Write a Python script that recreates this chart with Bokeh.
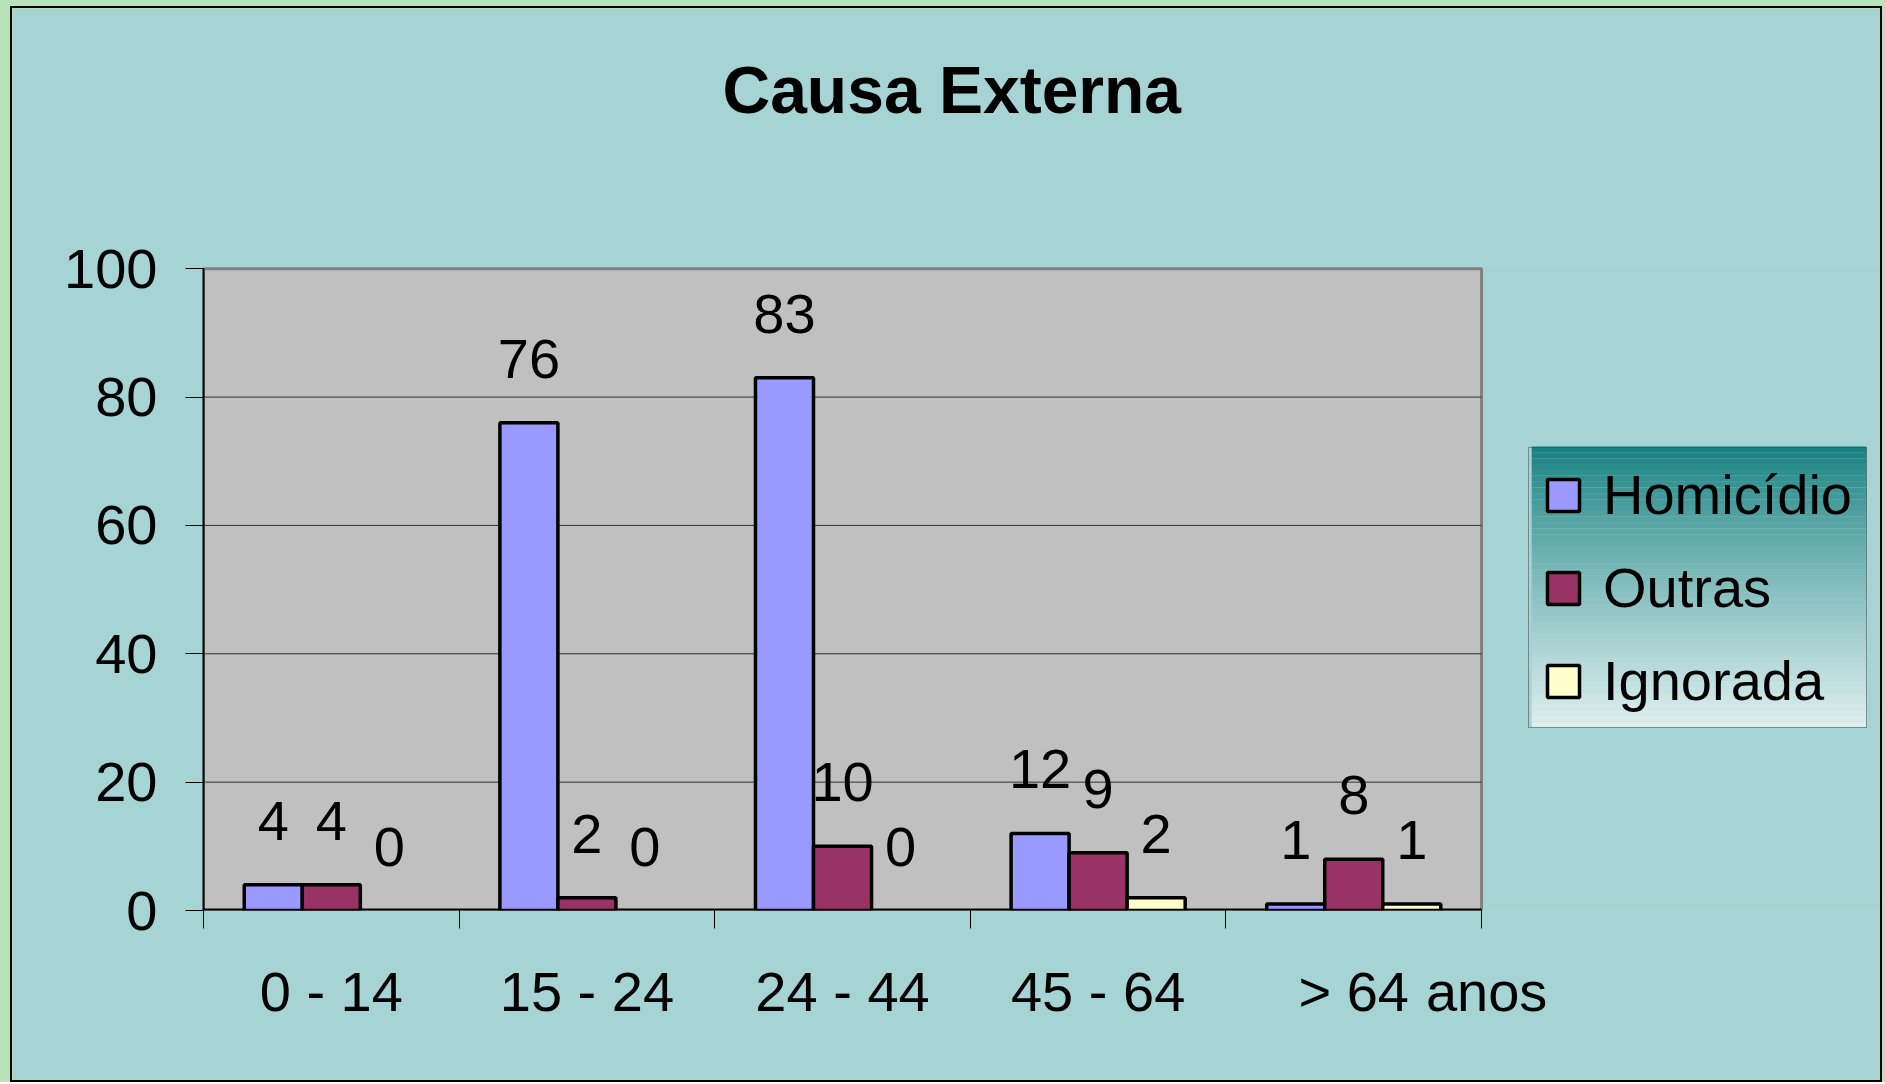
import numpy as np
from bokeh.plotting import figure
from bokeh.layouts import column
from bokeh.models import (ColumnDataSource, Range1d, FixedTicker, Legend, LegendItem,
                          LabelSet, CDSView, BooleanFilter, Title)
from bokeh.core.properties import value
from bokeh.embed import file_html
from bokeh.resources import INLINE

# ---- data ----
categories = ["0 - 14", "15 - 24", "24 - 44", "45 - 64", "> 64"]
homicidio = [4, 76, 83, 12, 1]
outras = [4, 2, 10, 9, 8]
ignorada = [0, 0, 0, 2, 1]
series_names = ["Homicídio", "Outras", "Ignorada"]
y_ticks = [0, 20, 40, 60, 80, 100]
title_text = "Causa Externa"
unit_text = "anos"

# ---- style / layout ----
FONT = "Liberation Sans"
colors = ["#9999FF", "#993366", "#FFFFCC"]
BG = "#A6D3D3"
PANEL = "#C0C0C0"
W, H = 1872, 1076
MB_LEFT, MB_TOP, MB_BOTTOM = 191, 257, 174
PX_PER_CAT = 255.0
frame_w = (W - 4) - MB_LEFT
frame_h = (H - 4) - MB_TOP - MB_BOTTOM
y_top = 100.5
px_per_y = frame_h / y_top

n = len(categories)
p = figure(width=W, height=H,
           x_range=Range1d(0, frame_w / PX_PER_CAT), y_range=Range1d(0, y_top),
           output_backend="svg", toolbar_location=None,
           min_border_left=MB_LEFT, min_border_right=0,
           min_border_top=MB_TOP, min_border_bottom=MB_BOTTOM)
p.margin = (6, 3, 0, 10)
p.styles = {"border": "2px solid black"}

p.background_fill_color = BG
p.border_fill_color = BG
p.outline_line_color = None

# spacer between the frame and the title (keeps the title high above the plot)
p.add_layout(Title(text=" ", text_font_size="2px", standoff=130), "above")

# title
p.title.text = title_text
p.title.text_font = FONT
p.title.text_font_size = "66px"
p.title.text_font_style = "bold"
p.title.text_color = "black"
p.title.align = "left"
p.title.offset = 519
p.title.standoff = 10

# y axis
ya = p.yaxis[0]
ya.bounds = (y_ticks[0], y_ticks[-1])
ya.ticker = FixedTicker(ticks=y_ticks, minor_ticks=[])
ya.major_tick_out = 18
ya.major_tick_in = 0
ya.major_tick_line_color = "black"
ya.axis_line_color = "black"
ya.axis_line_width = 2
ya.major_label_standoff = 28
ya.major_label_text_font = FONT
ya.major_label_text_font_size = "56px"
ya.major_label_text_color = "black"

# x axis: labels at category centres, tick marks at category boundaries
xs = np.arange(n) + 0.5
unit_x = n + 0.02
xa = p.xaxis[0]
xa.ticker = FixedTicker(ticks=list(xs) + [unit_x], minor_ticks=list(range(n + 1)))
overrides = {float(x): c for x, c in zip(xs, categories)}
overrides[float(unit_x)] = unit_text
xa.major_label_overrides = overrides
xa.major_tick_out = 0
xa.major_tick_in = 0
xa.minor_tick_out = 18
xa.minor_tick_in = 0
xa.minor_tick_line_color = "black"
xa.axis_line_color = None
xa.major_label_standoff = 31
xa.major_label_text_font = FONT
xa.major_label_text_font_size = "56px"
xa.major_label_text_color = "black"

p.xgrid.visible = False
p.ygrid.visible = False

# plot panel (grey) with its grey top/right border
p.quad(left=[0], right=[n], bottom=[y_ticks[0]], top=[y_ticks[-1]],
       fill_color=PANEL, line_color="#808080", line_width=3)
# horizontal grid lines
gy = y_ticks[1:-1]
p.segment(x0=[0] * len(gy), x1=[n] * len(gy), y0=gy, y1=gy,
          line_color="#303030", line_width=1)
# category axis line
p.segment(x0=[0], x1=[n], y0=[0], y1=[0], line_color="black", line_width=4)

# bars
w = 0.227
items = []
for i, (name, vals, col) in enumerate(zip(series_names, [homicidio, outras, ignorada], colors)):
    src = ColumnDataSource(dict(x=xs + (i - 1) * w, top=vals, label=[str(v) for v in vals]))
    view = CDSView(filter=BooleanFilter([v > 0 for v in vals]))
    r = p.vbar(x="x", top="top", bottom=0, width=w, source=src, view=view,
               fill_color=col, line_color="black", line_width=3.5)
    items.append(LegendItem(label=name, renderers=[r]))
    p.add_layout(LabelSet(x="x", y="top", text="label", source=src,
                          y_offset=64, text_align="center", text_baseline="middle",
                          text_font=value(FONT), text_font_size=value("56px"),
                          text_color="black"))

# legend with a vertical gradient background (teal -> pale)
LEG_X, LEG_Y, LEG_W, LEG_H = 1325, 182, 334, 279
top_rgb = np.array([0x14, 0x7F, 0x7F])
bot_rgb = np.array([0xDF, 0xEF, 0xEF])
ns = 48
lefts, rights, bots, tops, cols = [], [], [], [], []
for k in range(ns):
    t = (k + 0.5) / ns
    c = top_rgb + (bot_rgb - top_rgb) * (t ** 0.85)
    y_hi = (LEG_Y + LEG_H - k * LEG_H / ns) / px_per_y
    y_lo = (LEG_Y + LEG_H - (k + 1) * LEG_H / ns) / px_per_y
    lefts.append(LEG_X / PX_PER_CAT)
    rights.append((LEG_X + LEG_W) / PX_PER_CAT)
    tops.append(y_hi + 0.02)
    bots.append(y_lo)
    cols.append("#%02x%02x%02x" % tuple(int(round(v)) for v in c))
p.quad(left=lefts, right=rights, bottom=bots, top=tops, fill_color=cols, line_color=None)

legend = Legend(items=items, location=(LEG_X, LEG_Y), margin=0,
                background_fill_alpha=0,
                border_line_color="#404040", border_line_width=1,
                glyph_width=40, glyph_height=40, label_standoff=20,
                padding=14, spacing=28,
                label_text_font=FONT, label_text_font_size="56px",
                label_text_color="black")
p.add_layout(legend)

layout = column(p, styles={"background-color": "#B8E2B8"})

open("out.html", "w").write(file_html(layout, INLINE))
